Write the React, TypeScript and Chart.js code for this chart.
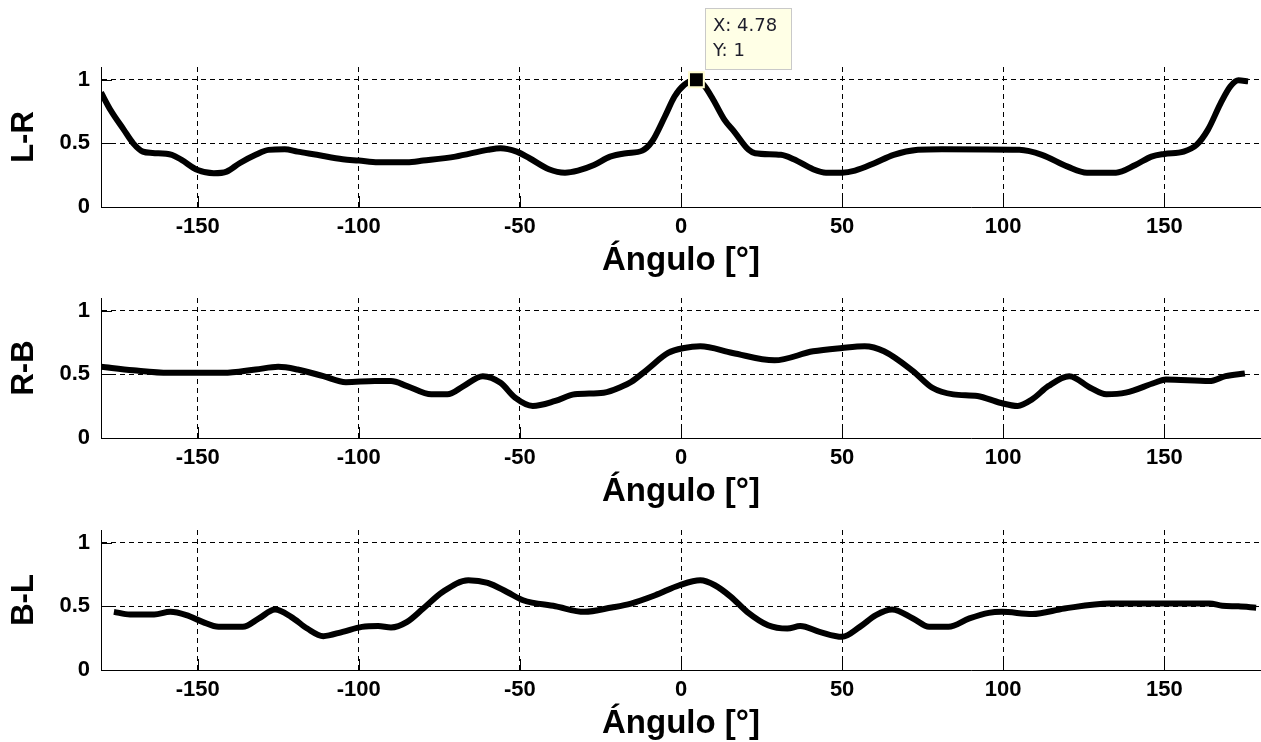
import React, { useEffect, useRef } from "react";
import { Chart, registerables } from "chart.js";

Chart.register(...registerables);

// ---------- data ----------
const ANGLE_MIN = -180;
const ANGLE_MAX = 180;
const ANGLE_STEP = 50;
const VALUE_MIN = 0;
const VALUE_MAX = 1.1;
const VALUE_STEP = 0.5;

const X_TITLE = "Ángulo [°]";
const Y_LABELS = ["L-R", "R-B", "B-L"];

const LR_ANGLES = [
  -180, -177, -173, -170, -167, -164, -158, -155, -150, -145, -141, -137, -132, -128, -123, -119,
  -113, -105, -100, -94, -85, -80, -70, -60, -56, -51, -47, -41, -36, -32, -27, -22, -17, -12, -9,
  -5, -2, 1, 4.78, 7, 10, 13.5, 16.5, 21, 23, 31, 35, 41, 45, 50, 54, 60, 66, 73.5, 81, 105, 112,
  120, 126, 135, 141, 146, 150, 156, 160, 163.5, 167.5, 170.5, 173, 176,
];
const LR_VALUES = [
  0.9, 0.76, 0.61, 0.5, 0.435, 0.425, 0.41, 0.37, 0.29, 0.265, 0.278, 0.344, 0.41, 0.449, 0.454,
  0.435, 0.41, 0.375, 0.365, 0.352, 0.352, 0.365, 0.396, 0.449, 0.462, 0.435, 0.383, 0.297, 0.27,
  0.286, 0.33, 0.396, 0.423, 0.443, 0.514, 0.711, 0.868, 0.96, 1.0, 0.96, 0.843, 0.685, 0.593,
  0.449, 0.423, 0.41, 0.375, 0.297, 0.27, 0.27, 0.286, 0.344, 0.41, 0.449, 0.454, 0.449, 0.41,
  0.317, 0.27, 0.27, 0.33, 0.396, 0.417, 0.435, 0.488, 0.606, 0.816, 0.947, 0.995, 0.987,
];

const RB_ANGLES = [
  -180, -170, -159, -142, -132, -125, -119, -111, -104, -95, -90, -85, -77.5, -72.5, -67.5, -61.5,
  -56, -51.5, -46, -39, -33, -24, -18, -15.5, -10.5, -4, 1, 6, 16, 29, 41, 50, 57, 63, 72, 78,
  84.5, 92, 99, 104.5, 109, 114, 120.5, 127, 132, 138, 147, 150.5, 164, 169, 175,
];
const RB_VALUES = [
  0.56, 0.532, 0.512, 0.512, 0.538, 0.559, 0.538, 0.486, 0.439, 0.447, 0.447, 0.408, 0.343, 0.343,
  0.408, 0.486, 0.434, 0.317, 0.252, 0.291, 0.343, 0.356, 0.408, 0.44, 0.538, 0.668, 0.707, 0.72,
  0.668, 0.61, 0.681, 0.707, 0.72, 0.681, 0.525, 0.395, 0.343, 0.33, 0.277, 0.252, 0.304, 0.408,
  0.486, 0.395, 0.343, 0.356, 0.434, 0.46, 0.447, 0.486, 0.507,
];

const BL_ANGLES = [
  -176, -171, -163.5, -158.5, -153.5, -148.5, -143.5, -136, -131, -126, -121, -116, -111, -105, -99,
  -94, -90, -85, -80, -74, -66, -60, -54, -49, -39, -30, -21.5, -15.5, -8, -0.5, 6, 10.5, 15.5,
  20.5, 27, 33, 37, 43, 50, 55.5, 60.5, 65.5, 72, 77, 83, 89.5, 95.5, 99.5, 109, 119, 133, 164,
  168, 173, 178.5,
];
const BL_VALUES = [
  0.457, 0.436, 0.436, 0.457, 0.431, 0.378, 0.339, 0.339, 0.405, 0.475, 0.418, 0.326, 0.266, 0.3,
  0.339, 0.345, 0.334, 0.378, 0.483, 0.613, 0.705, 0.684, 0.613, 0.548, 0.501, 0.457, 0.491, 0.522,
  0.587, 0.666, 0.705, 0.666, 0.575, 0.457, 0.352, 0.326, 0.345, 0.3, 0.261, 0.339, 0.431, 0.475,
  0.405, 0.339, 0.339, 0.405, 0.449, 0.457, 0.44, 0.483, 0.522, 0.522, 0.505, 0.5, 0.49,
];

const MARKER_X = 4.78;
const MARKER_Y = 1;

// ---------- styling ----------
const FONT = '"Liberation Sans", Arial, Helvetica, sans-serif';
const CANVAS_W = 1261;
const CANVAS_H = 290;

const innerTicks = {
  id: "innerTicks",
  afterDatasetsDraw(chart: any) {
    const { ctx, chartArea, scales } = chart;
    ctx.save();
    ctx.strokeStyle = "#000";
    ctx.lineWidth = 1;
    ctx.setLineDash([]);
    ctx.beginPath();
    scales.x.ticks.forEach((t: any) => {
      const px = Math.round(scales.x.getPixelForValue(t.value)) + 0.5;
      ctx.moveTo(px, chartArea.bottom);
      ctx.lineTo(px, chartArea.bottom - 11);
    });
    scales.y.ticks.forEach((t: any) => {
      const py = Math.round(scales.y.getPixelForValue(t.value)) + 0.5;
      ctx.moveTo(chartArea.left, py);
      ctx.lineTo(chartArea.left + 11, py);
    });
    ctx.stroke();
    ctx.restore();
  },
};

const datatip = {
  id: "datatip",
  afterDraw(chart: any, _args: any, opts: any) {
    if (!opts || !opts.enabled) return;
    const meta = chart.getDatasetMeta(opts.datasetIndex);
    const pt = meta && meta.data[0];
    if (!pt) return;
    const { x, y } = pt;
    const ctx = chart.ctx;
    ctx.save();
    const left = Math.round(x + 9);
    const top = Math.round(y - 72);
    const w = 86;
    const h = 61;
    ctx.fillStyle = "#ffffe6";
    ctx.fillRect(left, top, w, h);
    ctx.strokeStyle = "#c9c9c9";
    ctx.lineWidth = 1;
    ctx.strokeRect(left + 0.5, top + 0.5, w, h);
    ctx.fillStyle = "#1d1d2b";
    ctx.font = '18px "DejaVu Sans", sans-serif';
    ctx.textBaseline = "alphabetic";
    ctx.textAlign = "left";
    ctx.fillText(opts.lines[0], left + 8, y - 49);
    ctx.fillText(opts.lines[1], left + 8, y - 24);
    ctx.restore();
  },
};

function SubPlot(props: {
  top: number;
  angles: number[];
  values: number[];
  yLabel: string;
  marker?: boolean;
}) {
  const ref = useRef<HTMLCanvasElement>(null);
  useEffect(() => {
    const canvas = ref.current;
    if (!canvas) return;
    const datasets: any[] = [];
    if (props.marker) {
      datasets.push({
        type: "line",
        data: [{ x: MARKER_X, y: MARKER_Y }],
        showLine: false,
        pointStyle: "rect",
        pointRadius: 10.5,
        pointBackgroundColor: "#000",
        pointBorderColor: "#fffdd0",
        pointBorderWidth: 2,
        order: 0,
      });
    }
    datasets.push({
      type: "line",
      data: props.angles.map((a, i) => ({ x: a, y: props.values[i] })),
      borderColor: "#000",
      borderWidth: 6,
      pointRadius: 0,
      cubicInterpolationMode: "monotone",
      borderJoinStyle: "round",
      borderCapStyle: "butt",
      fill: false,
      order: 1,
    });
    const tickFont = { family: FONT, size: 22, weight: "bold" as const };
    const chart = new Chart(canvas, {
      type: "line",
      data: { datasets },
      options: {
        responsive: false,
        animation: false,
        events: [],
        layout: { autoPadding: false, padding: { top: 67, left: 0, right: 0, bottom: 0 } },
        plugins: {
          legend: { display: false },
          tooltip: { enabled: false },
          datatip: {
            enabled: !!props.marker,
            datasetIndex: 0,
            lines: ["X: " + MARKER_X, "Y: " + MARKER_Y],
          },
        } as any,
        scales: {
          x: {
            type: "linear",
            min: ANGLE_MIN,
            max: ANGLE_MAX,
            afterFit: (s: any) => {
              s.height = 83;
            },
            ticks: {
              stepSize: ANGLE_STEP,
              includeBounds: false,
              autoSkip: false,
              maxRotation: 0,
              padding: 7,
              color: "#000",
              font: tickFont,
              callback: (v: any) => String(v),
            },
            grid: { color: "#000", lineWidth: 1, drawTicks: false },
            border: { display: true, color: "#000", width: 1, dash: [5, 4] },
            title: {
              display: true,
              text: X_TITLE,
              color: "#000",
              font: { family: FONT, size: 33, weight: "bold" },
              padding: { top: 0, bottom: 9.6 },
            },
          },
          y: {
            type: "linear",
            min: VALUE_MIN,
            max: VALUE_MAX,
            afterFit: (s: any) => {
              s.width = 101;
            },
            ticks: {
              stepSize: VALUE_STEP,
              includeBounds: false,
              padding: 11,
              color: "#000",
              font: tickFont,
              callback: (v: any) => String(v),
            },
            grid: { color: "#000", lineWidth: 1, drawTicks: false },
            border: { display: true, color: "#000", width: 1, dash: [5, 4] },
            title: {
              display: true,
              text: props.yLabel,
              color: "#000",
              font: { family: FONT, size: 31, weight: "bold" },
              padding: { top: 5.4, bottom: 0 },
            },
          },
        },
      } as any,
      plugins: [innerTicks, datatip],
    });
    return () => chart.destroy();
  }, []);
  return (
    <canvas
      ref={ref}
      width={CANVAS_W}
      height={CANVAS_H}
      style={{ position: "absolute", left: 0, top: props.top, width: CANVAS_W, height: CANVAS_H }}
    />
  );
}

export default function App() {
  return (
    <div
      style={{
        position: "fixed",
        left: 0,
        top: 0,
        width: 1261,
        height: 742,
        overflow: "hidden",
        background: "#fff",
      }}
    >
      <SubPlot top={0} angles={LR_ANGLES} values={LR_VALUES} yLabel={Y_LABELS[0]} marker />
      <SubPlot top={231} angles={RB_ANGLES} values={RB_VALUES} yLabel={Y_LABELS[1]} />
      <SubPlot top={463} angles={BL_ANGLES} values={BL_VALUES} yLabel={Y_LABELS[2]} />
    </div>
  );
}
